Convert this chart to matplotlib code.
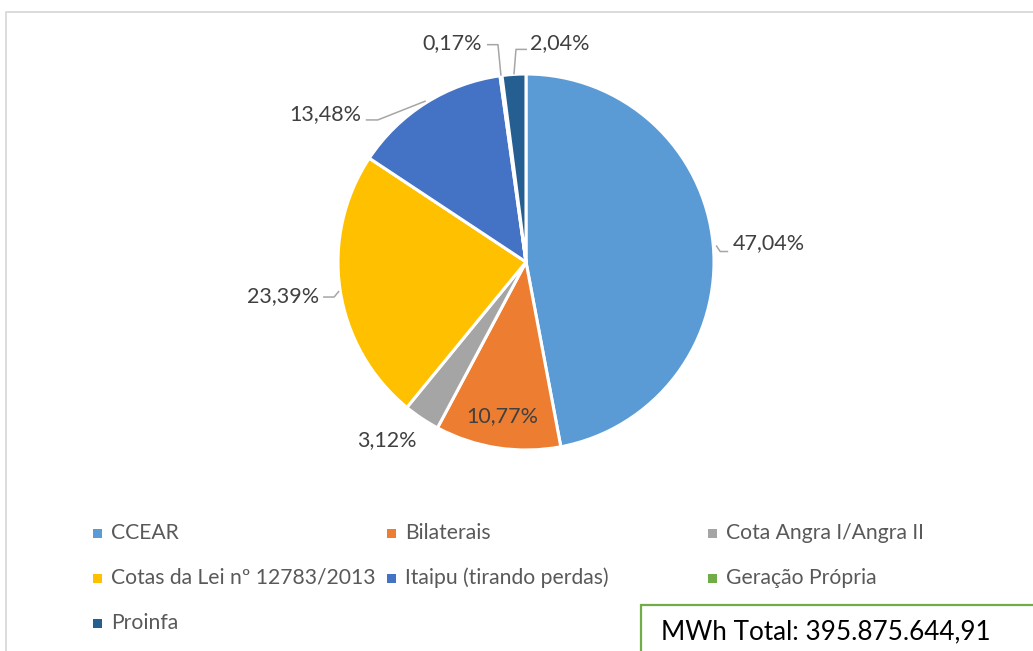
import numpy as np
import matplotlib.pyplot as plt
from matplotlib.patches import Rectangle

plt.rcParams['font.family'] = ['Lato', 'DejaVu Sans']

# canvas in pixels
W, H = 1033, 651

labels = ['CCEAR', 'Bilaterais', 'Cota Angra I/Angra II',
          'Cotas da Lei nº 12783/2013', 'Itaipu (tirando perdas)',
          'Geração Própria', 'Proinfa']
shares = [47.04, 10.77, 3.12, 23.39, 13.48, 0.17, 2.04]
colors = ['#5B9BD5', '#ED7D31', '#A5A5A5', '#FFC000',
          '#4472C4', '#70AD47', '#255E91']
total_text = 'MWh Total: 395.875.644,91'

text_col = '#404040'
leader_col = '#A6A6A6'
lab_fs = 15.5

# label layout: text offset from the slice edge point (px, y down), alignment,
# leader polyline offsets (px, y down); 'inside' puts the label in the slice
label_layout = [
    dict(off=(20, -1), ha='left', lead=[(3, 1), (7, 7), (15, 7)]),
    dict(inside=0.83),
    dict(off=(-35, 22), ha='center', lead=[]),
    dict(off=(-21, 6), ha='right', lead=[(-1, 1), (-6, 7), (-17, 7)]),
    dict(off=(-64, 11), ha='right', lead=[(0, -2), (-48, 17), (-60, 17)]),
    dict(off=(-19, -33), ha='right', lead=[(0, 0), (-3, -31), (-14, -31)]),
    dict(off=(16, -31), ha='left', lead=[(0, 0), (2, -25), (13, -25)]),
]

fig = plt.figure(figsize=(W / 100, H / 100), dpi=100)
ax = fig.add_axes([0, 0, 1, 1])

cx, cy, rad = 526, 262, 188

wedges, _ = ax.pie(shares, colors=colors, startangle=90, counterclock=False,
                   center=(cx, H - cy), radius=rad,
                   wedgeprops=dict(edgecolor='white', linewidth=2.2))
ax.set_xlim(0, W)
ax.set_ylim(0, H)
ax.axis('off')

for w, v, lay in zip(wedges, shares, label_layout):
    txt = f'{v:.2f}%'.replace('.', ',')
    mid = np.deg2rad((w.theta1 + w.theta2) / 2)
    if 'inside' in lay:
        r = rad * lay['inside']
        ax.text(cx + r * np.cos(mid), H - cy + r * np.sin(mid), txt,
                ha='center', va='center', fontsize=lab_fs, color=text_col)
        continue
    ex = cx + rad * np.cos(mid)
    ey = cy - rad * np.sin(mid)
    if lay['lead']:
        xs = [ex + p[0] for p in lay['lead']]
        ys = [H - (ey + p[1]) for p in lay['lead']]
        ax.plot(xs, ys, color=leader_col, lw=1.1, solid_capstyle='butt')
    ax.text(ex + lay['off'][0], H - (ey + lay['off'][1]), txt,
            ha=lay['ha'], va='center', fontsize=lab_fs, color=text_col)

# legend, filled row by row in three columns
col_x = [97, 391, 712]
row_y = [533, 578, 623]
for k, (lab, c) in enumerate(zip(labels, colors)):
    x = col_x[k % 3]
    y = H - row_y[k // 3]
    ax.add_patch(Rectangle((x - 4.5, y - 4.5), 9, 9, color=c, lw=0))
    ax.text(x + 14, y, lab, ha='left', va='center', fontsize=15.2,
            color='#595959')

# outer chart border
ax.plot([5.5, 5.5, W + 5], [-5, H - 12, H - 12], color='#D9D9D9', lw=1.3)

# total box
ax.add_patch(Rectangle((641, -10), W, H - 605 + 10, fill=False,
                       edgecolor='#70AD47', lw=1.6))
ax.text(661, H - 632, total_text, ha='left', va='center', fontsize=18.8,
        color='black')

fig.savefig('out.png', dpi=100)
